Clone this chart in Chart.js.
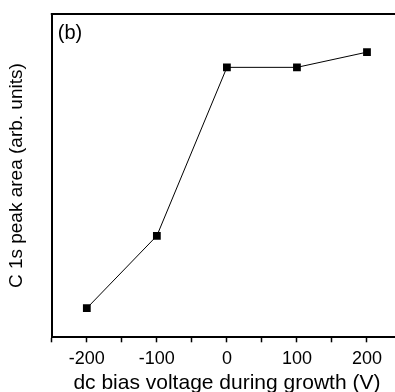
<!DOCTYPE html>
<html lang="en">
<head>
    <meta charset="UTF-8">
    <title>C 1s peak area vs dc bias</title>
    <script src="https://cdn.jsdelivr.net/npm/chart.js"></script>
    <style>
        html, body {
            margin: 0;
            padding: 0;
            background: #fff;
            overflow: hidden;
        }
        .chart-container {
            width: 409px;
            height: 392px;
            position: relative;
        }
    </style>
</head>
<body>
    <div class="chart-container">
        <canvas id="peakChart"></canvas>
    </div>
    <script>
        // values (y in arbitrary units, 0-100)
        const biasVoltage = [-200, -100, 0, 100, 200];
        const peakArea = [9, 31.4, 83.5, 83.5, 88.2];
        const labeledTicks = [-200, -100, 0, 100, 200];

        const FONT = '"Liberation Sans", Arial, sans-serif';

        // top frame line + panel label
        const frameAndLabel = {
            id: 'frameAndLabel',
            afterDraw(chart) {
                const { ctx, chartArea } = chart;
                ctx.save();
                ctx.strokeStyle = '#000';
                ctx.lineWidth = 2;
                ctx.beginPath();
                ctx.moveTo(chartArea.left - 1, chartArea.top);
                ctx.lineTo(chartArea.right, chartArea.top);
                ctx.stroke();
                ctx.fillStyle = '#000';
                ctx.font = '20px ' + FONT;
                ctx.textBaseline = 'top';
                ctx.fillText('(b)', chartArea.left + 6, chartArea.top + 9);
                ctx.restore();
            }
        };

        new Chart(document.getElementById('peakChart'), {
            type: 'line',
            data: {
                datasets: [{
                    data: biasVoltage.map((v, i) => ({ x: v, y: peakArea[i] })),
                    borderColor: '#000',
                    borderWidth: 1,
                    backgroundColor: '#000',
                    pointStyle: 'rect',
                    pointRadius: 5.5,
                    pointBorderWidth: 0,
                    tension: 0
                }]
            },
            plugins: [frameAndLabel],
            options: {
                responsive: true,
                maintainAspectRatio: false,
                animation: false,
                layout: { padding: { top: 14, left: 5, right: 0, bottom: 0 } },
                plugins: {
                    legend: { display: false },
                    tooltip: { enabled: false }
                },
                scales: {
                    x: {
                        type: 'linear',
                        min: -250,
                        max: 250,
                        grid: {
                            display: true,
                            drawOnChartArea: false,
                            drawTicks: true,
                            tickLength: 5,
                            tickColor: '#000',
                            tickWidth: 1.5
                        },
                        border: { display: true, color: '#000', width: 2 },
                        ticks: {
                            stepSize: 50,
                            color: '#000',
                            padding: 7,
                            maxRotation: 0,
                            autoSkip: false,
                            font: { family: FONT, size: 18, lineHeight: 1.05 },
                            callback: v => labeledTicks.includes(v) ? String(v) : ''
                        },
                        title: {
                            display: true,
                            text: 'dc bias voltage during growth (V)',
                            color: '#000',
                            padding: { top: 0, bottom: 0 },
                            font: { family: FONT, size: 21, lineHeight: 0.8 }
                        }
                    },
                    y: {
                        min: 0,
                        max: 100,
                        grid: { display: false },
                        border: { display: true, color: '#000', width: 2 },
                        ticks: { display: false },
                        title: {
                            display: true,
                            text: 'C 1s peak area (arb. units)',
                            color: '#000',
                            padding: { top: 0, bottom: 16 },
                            font: { family: FONT, size: 19 }
                        }
                    }
                }
            }
        });
    </script>
</body>
</html>
